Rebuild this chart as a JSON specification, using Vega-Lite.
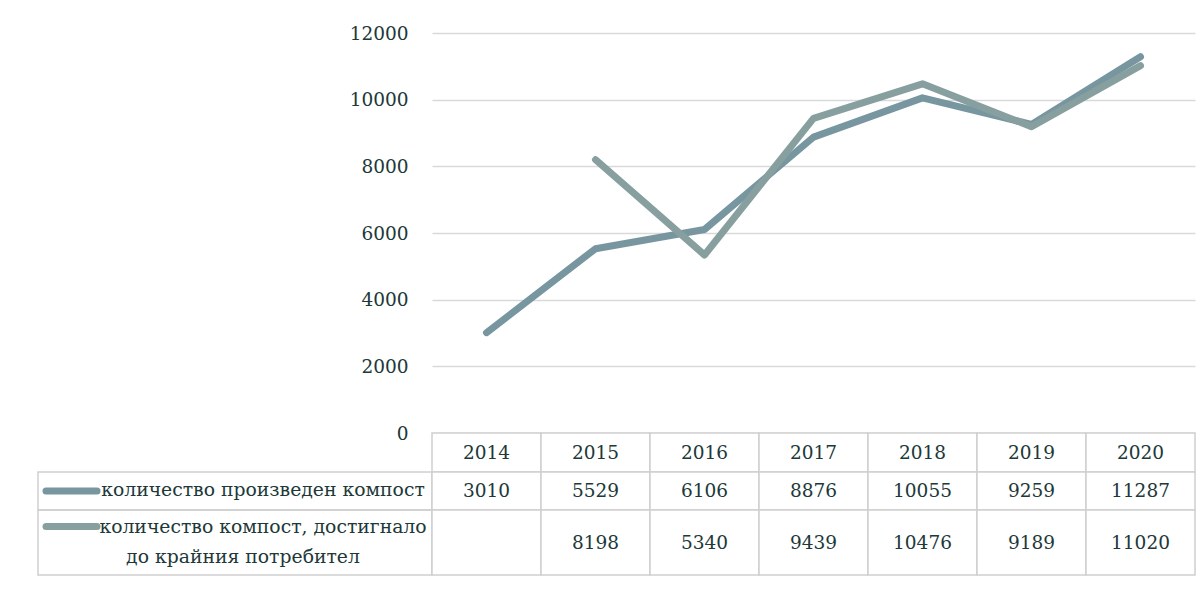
{
  "$schema": "https://vega.github.io/schema/vega-lite/v6.json",
  "padding": {"left": 31, "top": 24, "right": 0, "bottom": 0},
  "background": "white",
  "config": {
    "font": "DejaVu Serif",
    "view": {"stroke": null},
    "text": {"font": "DejaVu Serif", "fontSize": 18.5, "color": "#203838"}
  },
  "columns": 2,
  "spacing": 0,
  "align": "each",
  "bounds": "flush",
  "datasets": {
    "compost": [
      {"year": "2014", "series": "количество произведен компост", "value": 3010},
      {"year": "2015", "series": "количество произведен компост", "value": 5529},
      {"year": "2016", "series": "количество произведен компост", "value": 6106},
      {"year": "2017", "series": "количество произведен компост", "value": 8876},
      {"year": "2018", "series": "количество произведен компост", "value": 10055},
      {"year": "2019", "series": "количество произведен компост", "value": 9259},
      {"year": "2020", "series": "количество произведен компост", "value": 11287},
      {"year": "2015", "series": "количество компост, достигнало до крайния потребител", "value": 8198},
      {"year": "2016", "series": "количество компост, достигнало до крайния потребител", "value": 5340},
      {"year": "2017", "series": "количество компост, достигнало до крайния потребител", "value": 9439},
      {"year": "2018", "series": "количество компост, достигнало до крайния потребител", "value": 10476},
      {"year": "2019", "series": "количество компост, достигнало до крайния потребител", "value": 9189},
      {"year": "2020", "series": "количество компост, достигнало до крайния потребител", "value": 11020}
    ],
    "years": [
      {"year": "2014"}, {"year": "2015"}, {"year": "2016"}, {"year": "2017"},
      {"year": "2018"}, {"year": "2019"}, {"year": "2020"}
    ],
    "legend": [
      {"series": "количество произведен компост", "line": 1, "text": "количество произведен компост"},
      {"series": "количество компост, достигнало до крайния потребител", "line": 1, "text": "количество компост, достигнало"},
      {"series": "количество компост, достигнало до крайния потребител", "line": 2, "text": "до крайния потребител"}
    ],
    "blank": [{"note": ""}]
  },
  "concat": [
    {
      "width": 394, "height": 400,
      "data": {"name": "blank"},
      "mark": {"type": "text"},
      "encoding": {"text": {"field": "note"}}
    },
    {
      "width": 763, "height": 400,
      "data": {"name": "compost"},
      "mark": {"type": "line", "strokeWidth": 7, "strokeCap": "round", "strokeJoin": "round"},
      "encoding": {
        "x": {"field": "year", "type": "ordinal", "scale": {"type": "point", "padding": 0.5, "domain": ["2014","2015","2016","2017","2018","2019","2020"]}, "axis": null},
        "y": {"field": "value", "type": "quantitative", "scale": {"domain": [0, 12000]},
              "axis": {"values": [0,2000,4000,6000,8000,10000,12000], "title": null, "domain": false, "ticks": false,
                       "grid": true, "gridColor": "#d9d9d9", "gridWidth": 1.5, "labelPadding": 24, "labelFontSize": 18.5,
                       "labelFont": "DejaVu Serif", "labelColor": "#203838", "format": "d"}},
        "color": {"field": "series", "type": "nominal", "legend": null,
                  "scale": {"domain": ["количество произведен компост", "количество компост, достигнало до крайния потребител"], "range": ["#7896a0", "#889fa0"]}}
      }
    },
    {
      "width": 394, "height": 39,
      "data": {"name": "blank"},
      "mark": {"type": "text"},
      "encoding": {"text": {"field": "note"}}
    },
    {
      "width": 763, "height": 39,
      "data": {"name": "years"},
      "encoding": {
        "x": {"field": "year", "type": "ordinal", "scale": {"type": "band", "paddingInner": 0, "paddingOuter": 0}, "axis": null}
      },
      "layer": [
        {"mark": {"type": "rect", "fill": "white", "stroke": "#cfcfcf", "strokeWidth": 1.5}},
        {"mark": {"type": "text", "baseline": "middle"}, "encoding": {"text": {"field": "year"}}}
      ]
    },
    {
      "width": 394, "height": 38,
      "view": {"stroke": "#cfcfcf", "strokeWidth": 1.5},
      "data": {"name": "legend"},
      "transform": [{"filter": "datum.series === 'количество произведен компост'"}],
      "layer": [
        {"mark": {"type": "text", "baseline": "middle", "align": "center", "dx": 28, "dy": -1, "fontSize": 18.8}, "encoding": {"text": {"field": "text"}}},
        {"mark": {"type": "point", "shape": "M-0.945,0L-0.69,0", "size": 160000, "filled": false, "strokeWidth": 7, "strokeCap": "round", "opacity": 1},
         "encoding": {"color": {"field": "series", "type": "nominal", "legend": null,
                  "scale": {"domain": ["количество произведен компост", "количество компост, достигнало до крайния потребител"], "range": ["#6f929a", "#8ba39b"]}}}}
      ]
    },
    {
      "width": 763, "height": 38,
      "encoding": {
        "x": {"field": "year", "type": "ordinal", "scale": {"type": "band", "paddingInner": 0, "paddingOuter": 0, "domain": ["2014","2015","2016","2017","2018","2019","2020"]}, "axis": null}
      },
      "layer": [
        {"data": {"name": "years"}, "mark": {"type": "rect", "fill": "white", "stroke": "#cfcfcf", "strokeWidth": 1.5}},
        {"data": {"name": "compost"}, "transform": [{"filter": "datum.series === 'количество произведен компост'"}],
         "mark": {"type": "text", "baseline": "middle"}, "encoding": {"text": {"field": "value", "type": "quantitative", "format": "d"}}}
      ]
    },
    {
      "width": 394, "height": 65,
      "view": {"stroke": "#cfcfcf", "strokeWidth": 1.5},
      "data": {"name": "legend"},
      "transform": [{"filter": "datum.series === 'количество компост, достигнало до крайния потребител'"}],
      "layer": [
        {"transform": [{"filter": "datum.line === 1"}], "mark": {"type": "text", "baseline": "middle", "align": "center", "dx": 28, "dy": -16, "fontSize": 18.8}, "encoding": {"text": {"field": "text"}}},
        {"transform": [{"filter": "datum.line === 2"}], "mark": {"type": "text", "baseline": "middle", "align": "center", "dx": 8, "dy": 14, "fontSize": 18.8}, "encoding": {"text": {"field": "text"}}},
        {"transform": [{"filter": "datum.line === 1"}],
         "mark": {"type": "point", "shape": "M-0.945,-0.08L-0.69,-0.08", "size": 160000, "filled": false, "strokeWidth": 7, "strokeCap": "round", "opacity": 1},
         "encoding": {"color": {"field": "series", "type": "nominal", "legend": null,
                  "scale": {"domain": ["количество произведен компост", "количество компост, достигнало до крайния потребител"], "range": ["#6f929a", "#8ba39b"]}}}}
      ]
    },
    {
      "width": 763, "height": 65,
      "encoding": {
        "x": {"field": "year", "type": "ordinal", "scale": {"type": "band", "paddingInner": 0, "paddingOuter": 0, "domain": ["2014","2015","2016","2017","2018","2019","2020"]}, "axis": null}
      },
      "layer": [
        {"data": {"name": "years"}, "mark": {"type": "rect", "fill": "white", "stroke": "#cfcfcf", "strokeWidth": 1.5}},
        {"data": {"name": "compost"}, "transform": [{"filter": "datum.series === 'количество компост, достигнало до крайния потребител'"}],
         "mark": {"type": "text", "baseline": "middle"}, "encoding": {"text": {"field": "value", "type": "quantitative", "format": "d"}}}
      ]
    }
  ]
}
